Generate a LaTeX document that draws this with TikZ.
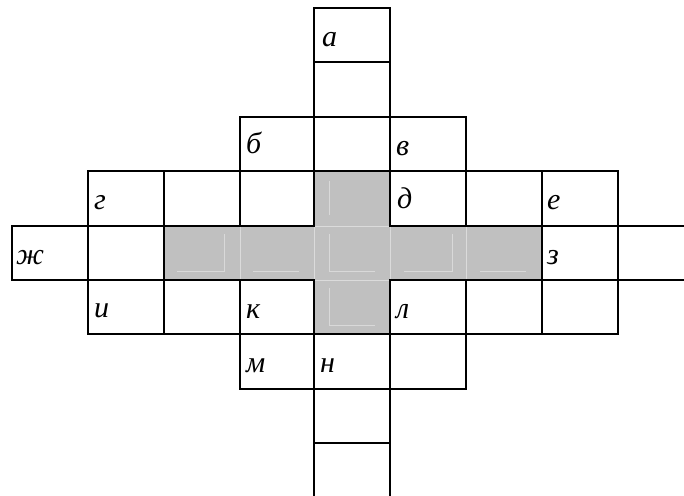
\documentclass[tikz,border=0pt]{standalone}
\usepackage{fontspec}
\setmainfont{Liberation Serif}
\begin{document}
\begin{tikzpicture}[x=1pt,y=-1pt,
  cellline/.style={line width=2.2pt,line cap=rect},
  seam/.style={draw=white!86!black,line width=0.9pt},
  faintmark/.style={draw=white!85!black,line width=0.8pt},
  lbl/.style={anchor=base west,inner sep=0pt,font=\fontsize{30}{32}\selectfont\itshape}]
\useasboundingbox (0,0) rectangle (684,495);
% grey cross
\fill[fill={rgb,255:red,192;green,192;blue,192}] (164,226) rectangle (542,280);
\fill[fill={rgb,255:red,192;green,192;blue,192}] (314,171) rectangle (390,334);
% seams between grey cells
\foreach \x in {240,314,390,466} \draw[seam] (\x,226) -- (\x,280);
\draw[seam] (314,226) -- (390,226);
\draw[seam] (314,280) -- (390,280);
% faint inner marks
\draw[faintmark] (177,271) -- (224,271) -- (224,234);
\draw[faintmark] (253,271) -- (299,271);
\draw[faintmark] (329,234) -- (329,271) -- (375,271);
\draw[faintmark] (329,181) -- (329,215);
\draw[faintmark] (329,288) -- (329,325) -- (375,325);
\draw[faintmark] (404,271) -- (452,271) -- (452,234);
\draw[faintmark] (480,271) -- (526,271);
% white cells
\foreach \x/\y/\w/\h in {
  314/8/76/54, 314/62/76/55,
  240/117/74/54, 314/117/76/54, 390/117/76/54,
  88/171/76/55, 164/171/76/55, 240/171/74/55, 390/171/76/55, 466/171/76/55, 542/171/76/55,
  12/226/76/54, 88/226/76/54, 542/226/76/54,
  88/280/76/54, 164/280/76/54, 240/280/74/54, 390/280/76/54, 466/280/76/54, 542/280/76/54,
  240/334/74/55, 314/334/76/55, 390/334/76/55,
  314/389/76/54}
  \draw[cellline] (\x,\y) rectangle ++(\w,\h);
% open cells
\draw[cellline] (684,226) -- (618,226);
\draw[cellline] (618,280) -- (684,280);
\draw[cellline] (314,495) -- (314,443) -- (390,443) -- (390,495);
% labels
\node[lbl] (la) at (322,46) {а};
\node[lbl] (lb) at (246,153) {б};
\node[lbl] (lv) at (396,155) {в};
\node[lbl] (lg) at (94,209) {г};
\node[lbl] (ld) at (397,208) {д};
\node[lbl] (le) at (547,209) {е};
\node[lbl] (lzh) at (16,264) {ж};
\node[lbl] (lz) at (547,264) {з};
\node[lbl] (li) at (94,317) {и};
\node[lbl] (lk) at (246,318) {к};
\node[lbl] (ll) at (396,318) {л};
\node[lbl] (lm) at (246,372) {м};
\node[lbl] (ln) at (320,372) {н};
\end{tikzpicture}
\end{document}
